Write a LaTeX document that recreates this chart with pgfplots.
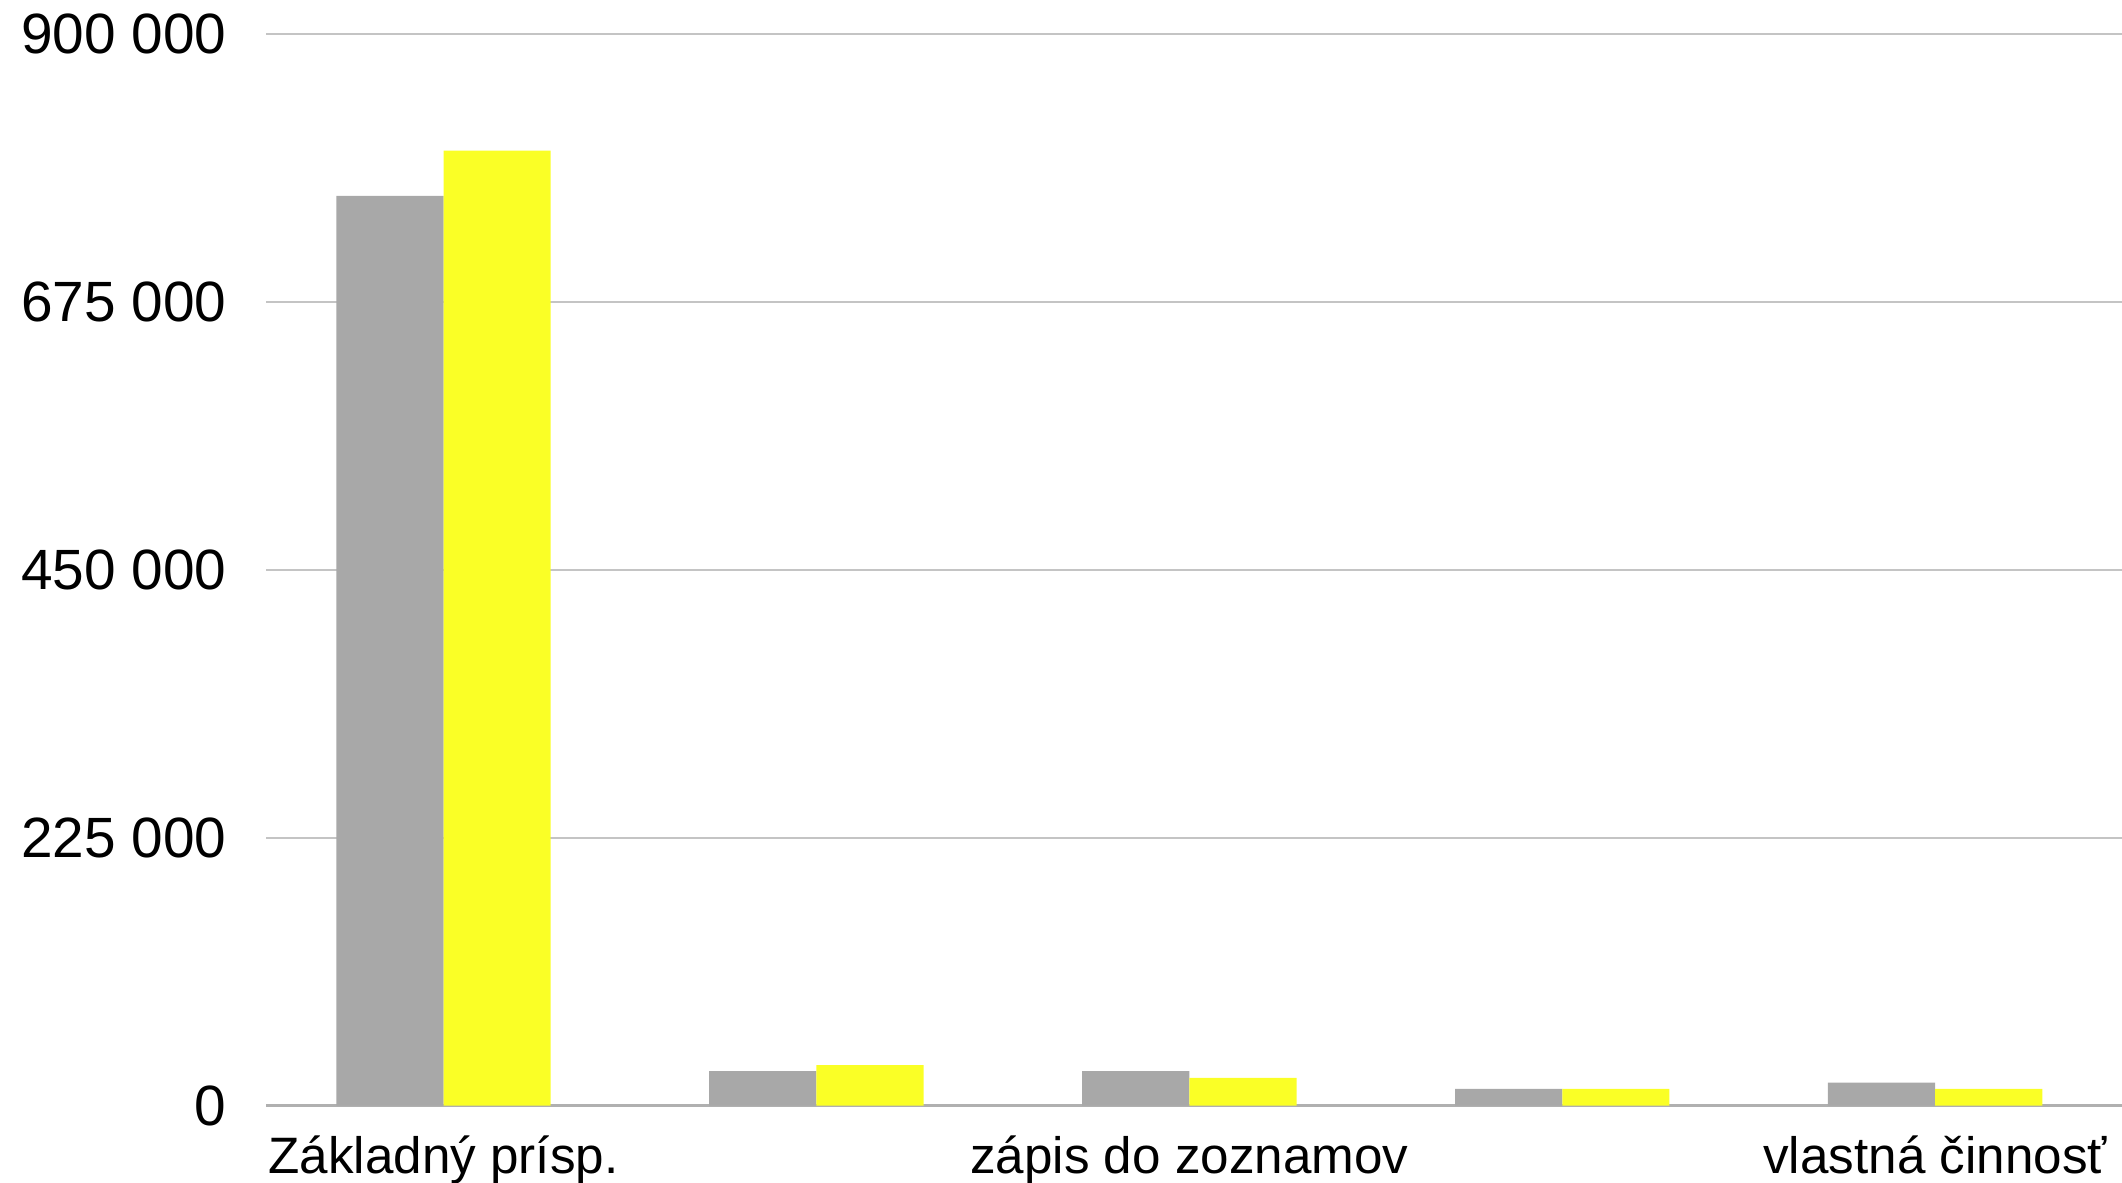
\documentclass[border=0pt]{standalone}
\usepackage{pgfplots}
\pgfplotsset{compat=1.18}
\usepackage{fontspec}
\setmainfont{Liberation Sans}
\definecolor{bargray}{HTML}{A8A8A8}
\definecolor{baryellow}{HTML}{FAFF26}
\definecolor{gridc}{HTML}{C4C4C4}
\begin{document}
\begin{tikzpicture}
\useasboundingbox (0,0) rectangle (530.5pt,295.7pt);
\begin{axis}[
  at={(66.6pt,19.3pt)}, anchor=south west,
  scale only axis,
  width=463.8pt, height=267.9pt,
  xmin=-0.475, xmax=4.5,
  ymin=0, ymax=900000,
  ybar=0pt, bar width=26.8pt,
  axis lines*=left,
  y axis line style={draw=none},
  x axis line style={draw=gridc!90!black, line width=0.7pt},
  major tick length=0pt,
  xtick={0,1,2,3,4},
  xticklabels={Základný prísp., , zápis do zoznamov, , vlastná činnosť},
  ytick={0,225000,450000,675000,900000},
  yticklabels={0, 225 000, 450 000, 675 000, 900 000},
  ymajorgrids,
  grid style={draw=gridc, line width=0.45pt},
  scaled y ticks=false,
  tick label style={font=\fontsize{12.8pt}{15pt}\selectfont, text=black},
  yticklabel style={anchor=east, inner sep=0pt, xshift=-9.8pt, font=\fontsize{14.2pt}{17pt}\selectfont},
  xticklabel style={anchor=base, inner sep=0pt, yshift=-17pt},
]
\addplot[fill=bargray, draw=none] coordinates {(0,764000) (1,29000) (2,29000) (3,14000) (4,19300)};
\addplot[fill=baryellow, draw=none] coordinates {(0,802000) (1,34000) (2,23200) (3,14000) (4,14000)};
\end{axis}
\end{tikzpicture}
\end{document}
